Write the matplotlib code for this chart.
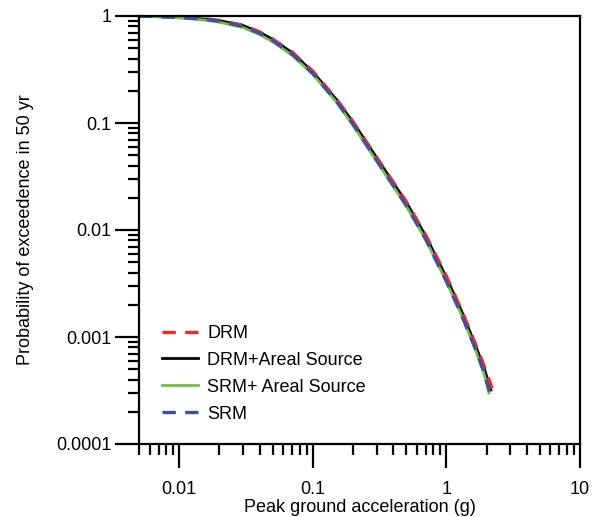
import matplotlib
matplotlib.use("Agg")
import matplotlib.pyplot as plt
from matplotlib.ticker import LogLocator, FixedLocator, NullFormatter, FixedFormatter

plt.rcParams['font.family'] = ['Liberation Sans', 'DejaVu Sans']

# Data
x_drm = [0.005, 0.01, 0.015, 0.02, 0.03, 0.04, 0.05, 0.07, 0.1, 0.15, 0.2, 0.3, 0.5, 0.7, 1.0, 1.3, 1.6, 1.9, 2.1, 2.2]
y_drm = [1.0, 0.975, 0.945, 0.91, 0.82, 0.71, 0.61, 0.46, 0.305, 0.168, 0.103, 0.048, 0.0185, 0.0090, 0.0037, 0.00178, 0.00095, 0.00055, 0.00039, 0.00033]

x_drm_areal = [0.005, 0.01, 0.015, 0.02, 0.03, 0.04, 0.05, 0.07, 0.1, 0.15, 0.2, 0.3, 0.5, 0.7, 1.0, 1.3, 1.6, 1.9, 2.15]
y_drm_areal = [1.0, 0.97, 0.94, 0.905, 0.815, 0.705, 0.605, 0.455, 0.30, 0.166, 0.102, 0.0475, 0.0182, 0.0088, 0.0036, 0.00174, 0.00092, 0.00053, 0.00032]

x_srm_areal = [0.005, 0.01, 0.015, 0.02, 0.03, 0.04, 0.05, 0.07, 0.1, 0.15, 0.2, 0.3, 0.5, 0.7, 1.0, 1.3, 1.6, 1.9, 2.08]
y_srm_areal = [1.0, 0.96, 0.92, 0.875, 0.78, 0.67, 0.575, 0.43, 0.285, 0.157, 0.095, 0.044, 0.0168, 0.0081, 0.0033, 0.00158, 0.00084, 0.00047, 0.00030]

x_srm = [0.005, 0.01, 0.015, 0.02, 0.03, 0.04, 0.05, 0.07, 0.1, 0.15, 0.2, 0.3, 0.5, 0.7, 1.0, 1.3, 1.6, 1.9, 2.1]
y_srm = [1.0, 0.97, 0.935, 0.895, 0.80, 0.69, 0.59, 0.44, 0.29, 0.16, 0.097, 0.045, 0.0170, 0.0082, 0.0033, 0.0016, 0.00085, 0.00048, 0.00031]

x_ticks = [0.01, 0.1, 1, 10]
x_tick_labels = ['0.01', '0.1', '1', '10']
y_ticks = [0.0001, 0.001, 0.01, 0.1, 1]
y_tick_labels = ['0.0001', '0.001', '0.01', '0.1', '1']

fig = plt.figure(figsize=(5.97, 5.17), dpi=100)
ax = fig.add_axes([139/597, 1-444/517, (580-139)/597, (444-16)/517])

lw = 2.0
h_black, = ax.plot(x_drm_areal, y_drm_areal, color='black', lw=lw, label='DRM+Areal Source')
h_green, = ax.plot(x_srm_areal, y_srm_areal, color='#6bbf47', lw=lw, label='SRM+ Areal Source')
h_red, = ax.plot(x_drm, y_drm, color='#ee2a2a', lw=2.4, dashes=(4.0, 2.8), label='DRM')
h_blue, = ax.plot(x_srm, y_srm, color='#3b52a3', lw=2.4, dashes=(4.0, 2.8), label='SRM')

ax.set_xscale('log')
ax.set_yscale('log')
ax.set_xlim(0.005, 10)
ax.set_ylim(0.0001, 1)

ax.xaxis.set_major_locator(FixedLocator(x_ticks))
ax.xaxis.set_major_formatter(FixedFormatter(x_tick_labels))
ax.yaxis.set_major_locator(FixedLocator(y_ticks))
ax.yaxis.set_major_formatter(FixedFormatter(y_tick_labels))
ax.xaxis.set_minor_locator(LogLocator(base=10, subs=range(2, 10), numticks=20))
ax.yaxis.set_minor_locator(LogLocator(base=10, subs=range(2, 10), numticks=20))
ax.xaxis.set_minor_formatter(NullFormatter())
ax.yaxis.set_minor_formatter(NullFormatter())

ax.tick_params(which='major', direction='out', length=17, width=1.6, labelsize=13, color='black')
ax.tick_params(which='minor', direction='out', length=8, width=1.6, color='black')
ax.tick_params(axis='x', which='major', pad=10)
ax.tick_params(axis='y', which='major', pad=3)
ax.tick_params(top=False, right=False, which='both')

for s in ax.spines.values():
    s.set_linewidth(1.6)
    s.set_color('black')

ax.set_xlabel('Peak ground acceleration (g)', fontsize=13, labelpad=0)
ax.set_ylabel('Probability of exceedence in 50 yr', fontsize=13, labelpad=16)

leg = ax.legend(handles=[h_red, h_black, h_green, h_blue], loc='lower left',
                bbox_to_anchor=(0.015, 0.012), frameon=False, fontsize=13,
                handlelength=2.0, handletextpad=0.5, labelspacing=0.55)

fig.savefig('out.png', dpi=100)
